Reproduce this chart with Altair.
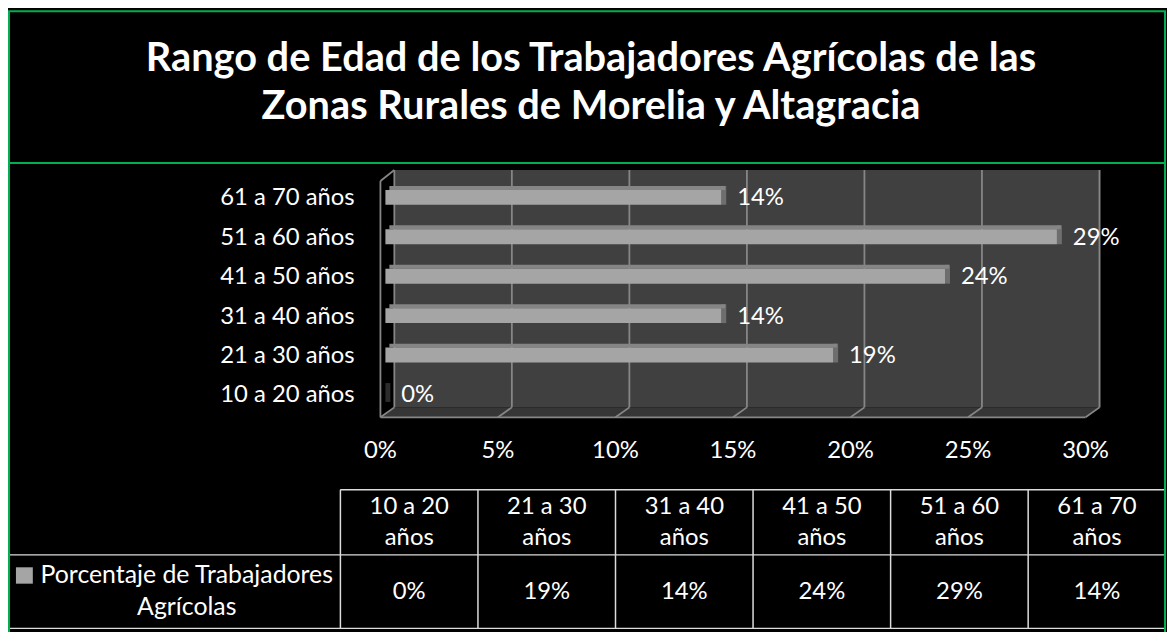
import altair as alt
import pandas as pd

# ---------------- data ----------------
categories = ["10 a 20 años", "21 a 30 años", "31 a 40 años",
              "41 a 50 años", "51 a 60 años", "61 a 70 años"]
percentages = [0.0, 19.05, 14.29, 23.81, 28.57, 14.29]
x_ticks = [0, 5, 10, 15, 20, 25, 30]
title_lines = ["Rango de Edad de los Trabajadores Agrícolas de las",
               "Zonas Rurales de Morelia y Altagracia"]
series_name = ["Porcentaje de Trabajadores", "Agrícolas"]

# ---------------- styling ----------------
W, H = 1167, 624
FONT = "Lato"
FS = 24
GREEN = "#00b050"
WALL = "#404040"
FLOOR = "#363636"
GRID = "#868686"
BAR_FRONT = "#a5a5a5"
BAR_TOP = "#858585"
BAR_SIDE = "#6e6e6e"
TXT = "#ffffff"
LINE = "#dcdcdc"

X0, X1 = 380, 1090           # bar value scale pixel range (0..30 %)
PX = (X1 - X0) / 30.0
BACK_OFF = 9                 # back wall shift (px)
FRONT_OFF = -5               # floor front edge shift (px)
WALL_TOP, WALL_BOT, FLOOR_BOT = 161, 400, 410

df = pd.DataFrame({"cat": categories, "pct": percentages})
df["label"] = df["pct"].round().astype(int).astype(str) + "%"
df["header"] = df["cat"].str.replace(" años", "\naños", regex=False)

ticks = pd.DataFrame({"t": x_ticks})
ticks["lab"] = ticks["t"].astype(str) + "%"

xs = alt.Scale(domain=[0, 30], range=[X0, X1])
ys = alt.Scale(type="point", domain=categories[::-1], range=[188.5, 387], padding=0)
cs = alt.Scale(type="point", domain=categories, range=[404, 1096.5], padding=0)
pix = alt.Scale(domain=[0, H], range=[0, H])

one = pd.DataFrame({"a": [0], "b": [30]})

# ---------------- frame ----------------
border = alt.Chart(one).mark_rect(fill=None, stroke=GREEN, strokeWidth=2).encode(
    x=alt.value(1), x2=alt.value(1165), y=alt.value(1), y2=alt.value(700))
title_sep = alt.Chart(one).mark_rule(color=GREEN, strokeWidth=2).encode(
    x=alt.value(1), x2=alt.value(1165), y=alt.value(154))
title = alt.Chart(pd.DataFrame({"t": ["\n".join(title_lines)]})).mark_text(
    font=FONT, fontWeight="bold", fontSize=40, color=TXT, align="center",
    baseline="alphabetic", lineBreak="\n", lineHeight=48.5).encode(
    x=alt.value(587), y=alt.value(61), text="t:N")

# ---------------- 3D plot box ----------------
wall = alt.Chart(one).mark_rect(color=WALL, xOffset=BACK_OFF, x2Offset=BACK_OFF + 1).encode(
    x=alt.X("a:Q", scale=xs, axis=None), x2="b:Q",
    y=alt.value(WALL_TOP), y2=alt.value(WALL_BOT))

floor_df = pd.DataFrame({
    "yy": [WALL_BOT, FLOOR_BOT],
    "a": [BACK_OFF / PX, FRONT_OFF / PX],
    "b": [30 + (BACK_OFF + 1) / PX, 30 + FRONT_OFF / PX],
})
floor = alt.Chart(floor_df).mark_area(orient="horizontal", color=FLOOR).encode(
    y=alt.Y("yy:Q", scale=pix, axis=None),
    x=alt.X("a:Q", scale=xs, axis=None), x2="b:Q")

grid = alt.Chart(ticks).mark_rule(color=GRID, strokeWidth=1.8, xOffset=BACK_OFF).encode(
    x=alt.X("t:Q", scale=xs, axis=None),
    y=alt.value(WALL_TOP), y2=alt.value(WALL_BOT))
grid_floor = alt.Chart(ticks).mark_rule(color=GRID, strokeWidth=1.8,
                                        xOffset=BACK_OFF, x2Offset=FRONT_OFF).encode(
    x=alt.X("t:Q", scale=xs, axis=None), x2="t:Q",
    y=alt.value(WALL_BOT), y2=alt.value(FLOOR_BOT))
front_line = alt.Chart(one).mark_rule(color=GRID, strokeWidth=1.8,
                                      xOffset=FRONT_OFF, x2Offset=FRONT_OFF).encode(
    x=alt.X("a:Q", scale=xs, axis=None), x2="b:Q", y=alt.value(FLOOR_BOT))
left_edge = alt.Chart(one).mark_rule(color=GRID, strokeWidth=1.8, xOffset=FRONT_OFF).encode(
    x=alt.X("a:Q", scale=xs, axis=None), y=alt.value(WALL_TOP + 11), y2=alt.value(FLOOR_BOT))
left_top = alt.Chart(one).mark_rule(color=GRID, strokeWidth=1.8,
                                    xOffset=FRONT_OFF, x2Offset=BACK_OFF).encode(
    x=alt.X("a:Q", scale=xs, axis=None), x2="a:Q",
    y=alt.value(WALL_TOP + 11), y2=alt.value(WALL_TOP))

# ---------------- bars ----------------
bx = alt.X("pct:Q", scale=xs, axis=None)
by = alt.Y("cat:N", scale=ys, axis=None)
side = alt.Chart(df).mark_bar(size=19, yOffset=-2, x2Offset=5).encode(
    x=bx, x2="pct:Q", y=by,
    color=alt.condition("datum.pct == 0", alt.value("#2c2c2c"), alt.value(BAR_SIDE)))
top = alt.Chart(df).mark_bar(size=4, yOffset=-9.5, xOffset=4, x2Offset=4, color=BAR_TOP).encode(
    x=bx, x2=alt.datum(0), y=by)
front = alt.Chart(df).mark_bar(size=15, color=BAR_FRONT).encode(
    x=bx, x2=alt.datum(0), y=by)
vlabels = alt.Chart(df).mark_text(font=FONT, fontSize=FS, color=TXT, align="left",
                                  baseline="middle", dx=16, dy=1).encode(
    x=bx, y=by, text="label:N")
clabels = alt.Chart(df).mark_text(font=FONT, fontSize=FS, color=TXT, align="right",
                                  baseline="middle", dy=1).encode(
    x=alt.value(349), y=by, text="cat:N")
xlabels = alt.Chart(ticks).mark_text(font=FONT, fontSize=FS, color=TXT, align="center",
                                     baseline="middle", dx=FRONT_OFF).encode(
    x=alt.X("t:Q", scale=xs, axis=None), y=alt.value(444), text="lab:N")

# ---------------- data table ----------------
cx = alt.X("cat:N", scale=cs, axis=None)
half = 69.3
tbl_v = alt.Chart(df).mark_rule(color=LINE, strokeWidth=1.5, xOffset=-half).encode(
    x=cx, y=alt.value(483), y2=alt.value(622.5))
tbl_top = alt.Chart(one).mark_rule(color=LINE, strokeWidth=1.5).encode(
    x=alt.value(334.5), x2=alt.value(1165), y=alt.value(483))
tbl_mid = alt.Chart(one).mark_rule(color=LINE, strokeWidth=1.5).encode(
    x=alt.value(1), x2=alt.value(1165), y=alt.value(548.5))
tbl_bot = alt.Chart(one).mark_rule(color=LINE, strokeWidth=1.5).encode(
    x=alt.value(1), x2=alt.value(1165), y=alt.value(622.5))
tbl_head = alt.Chart(df).mark_text(font=FONT, fontSize=FS, color=TXT, align="center",
                                   baseline="alphabetic", lineBreak="\n", lineHeight=31.7).encode(
    x=cx, y=alt.value(507), text="header:N")
tbl_vals = alt.Chart(df).mark_text(font=FONT, fontSize=FS, color=TXT, align="center",
                                   baseline="alphabetic").encode(
    x=cx, y=alt.value(593), text="label:N")
swatch = alt.Chart(one).mark_rect(color=BAR_FRONT).encode(
    x=alt.value(8), x2=alt.value(25), y=alt.value(561), y2=alt.value(577.5))
row_label = alt.Chart(pd.DataFrame({"t": ["\n".join(series_name)]})).mark_text(
    font=FONT, fontSize=25, color=TXT, align="center", baseline="alphabetic",
    lineBreak="\n", lineHeight=31.7).encode(
    x=alt.value(180), y=alt.value(577), text="t:N")

chart = alt.layer(
    title_sep, title,
    wall, floor, grid, grid_floor, front_line, left_edge, left_top,
    side, top, front, vlabels, clabels, xlabels,
    tbl_v, tbl_top, tbl_mid, tbl_bot, tbl_head, tbl_vals, swatch, row_label,
    border,
).resolve_scale(x="independent", y="independent").properties(
    width=W, height=H, background="#000000", padding=0,
    autosize=alt.AutoSizeParams(type="none"),
).configure_view(stroke=None)

chart.save("out.html", embed_options={"renderer": "svg", "actions": False})
